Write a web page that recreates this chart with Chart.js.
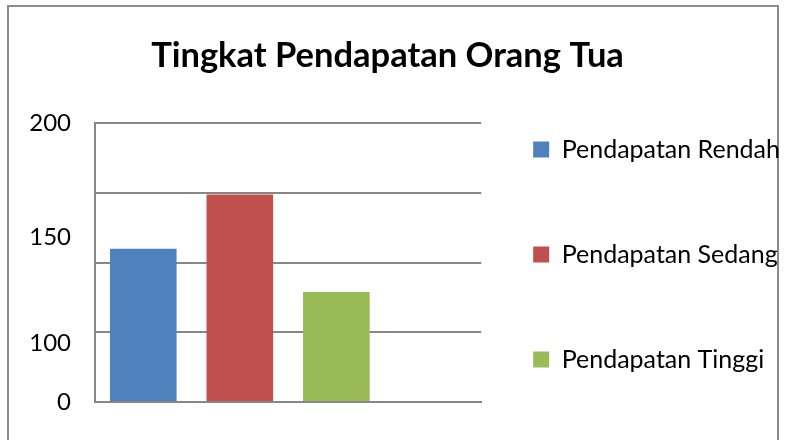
<!DOCTYPE html>
<html lang="id">
<head>
<meta charset="UTF-8">
<title>Tingkat Pendapatan Orang Tua</title>
<script src="https://cdn.jsdelivr.net/npm/chart.js"></script>
<style>
  html, body { margin: 0; padding: 0; background: #fff; }
  .frame { position: absolute; left: 7px; top: 5px; width: 768px; height: 460px; border: 2px solid #8c8c8c; border-bottom: none; }
  .wrap { position: absolute; left: 0; top: 0; width: 785px; height: 440px; }
</style>
</head>
<body>
<div class="frame"></div>
<div class="wrap"><canvas id="chart"></canvas></div>
<script>
// data
const categories = ['Pendapatan Rendah', 'Pendapatan Sedang', 'Pendapatan Tinggi', ''];
const values = [110, 149, 79, null];
const barColors = ['#4F81BD', '#C0504D', '#9BBB59', '#FFFFFF'];
// the value labels sit where they do in the picture, not on the grid lines
const yTickValues = [200, 118.5, 42.4, 0];
const yTickLabels = ['200', '150', '100', '0'];

const gridColor = '#878787';
Chart.defaults.font.family = 'Lato, "Open Sans", sans-serif';
Chart.defaults.color = '#000';

new Chart(document.getElementById('chart'), {
    type: 'bar',
    data: {
        labels: categories,
        datasets: [{
            data: values,
            backgroundColor: barColors,
            barPercentage: 0.69,
            categoryPercentage: 1.0,
            xAxisID: 'x',
            yAxisID: 'y'
        }]
    },
    options: {
        responsive: true,
        maintainAspectRatio: false,
        animation: false,
        // negative side padding lets the legend text run to the edge like in the picture
        layout: { padding: { left: -15, right: -5, top: 0, bottom: -12 } },
        plugins: {
            title: {
                display: true,
                text: 'Tingkat Pendapatan Orang Tua',
                color: '#000',
                font: { size: 34.5, weight: 'bold' },
                padding: { top: 35, bottom: 47 }
            },
            legend: {
                position: 'right',
                align: 'end',
                maxWidth: 400,
                labels: {
                    boxWidth: 16,
                    boxHeight: 16,
                    padding: 20,
                    color: '#000',
                    font: { size: 25, lineHeight: '85px' },
                    generateLabels: function(chart) {
                        const ds = chart.data.datasets[0];
                        return chart.data.labels.map((label, i) => ({
                            text: [label],
                            fillStyle: ds.backgroundColor[i],
                            strokeStyle: ds.backgroundColor[i],
                            fontColor: '#000',
                            lineWidth: 0,
                            hidden: false,
                            index: i
                        })).filter(item => item.text[0] !== '');
                    }
                }
            },
            tooltip: { enabled: false }
        },
        scales: {
            x: {
                type: 'category',
                grid: { display: false },
                ticks: { display: false },
                border: { color: gridColor, width: 2 },
                afterFit: s => { s.height = 50; }
            },
            y: {
                min: 0,
                max: 200,
                ticks: { stepSize: 50, display: false },
                grid: { color: gridColor, lineWidth: 2, drawTicks: false },
                border: { color: gridColor, width: 2 }
            },
            yLabels: {
                type: 'linear',
                position: 'left',
                min: 0,
                max: 200,
                grid: { display: false },
                border: { display: false },
                ticks: {
                    autoSkip: false,
                    padding: 16,
                    color: '#000',
                    font: { size: 24 },
                    callback: (v, i) => yTickLabels[i]
                },
                afterBuildTicks: s => { s.ticks = yTickValues.map(v => ({ value: v })); },
                afterFit: s => { s.width = 110; }
            },
            yr: {
                type: 'linear',
                position: 'right',
                grid: { display: false },
                border: { display: false },
                ticks: { display: false },
                afterFit: s => { s.width = 32; }
            }
        }
    }
});
</script>
</body>
</html>
